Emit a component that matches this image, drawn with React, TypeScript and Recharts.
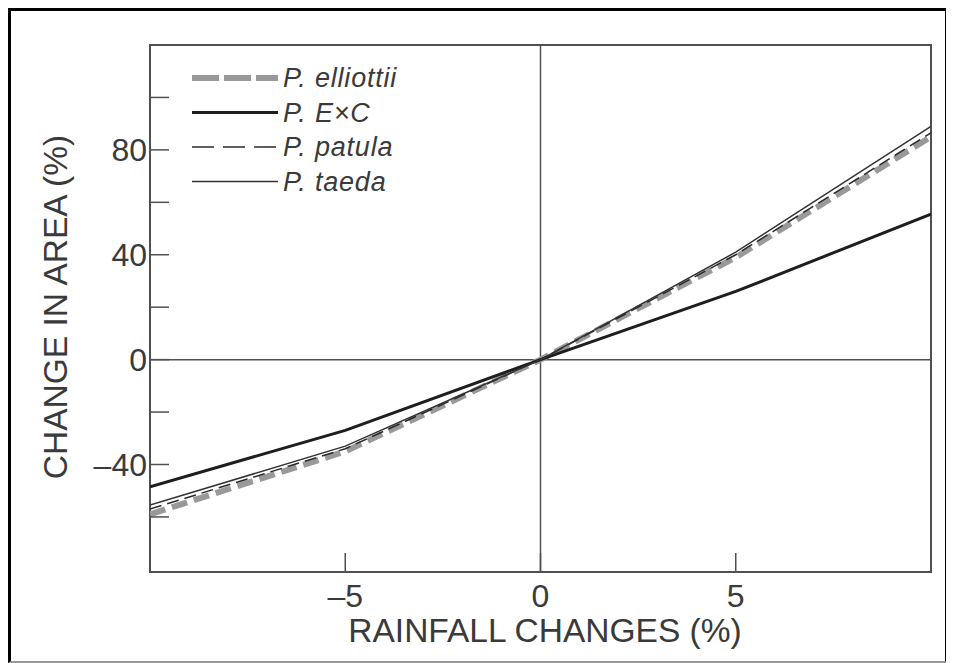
import React from 'react';
import { LineChart, Line, XAxis, YAxis, ReferenceLine, ReferenceArea, Legend, Label } from 'recharts';

// values (rainfall change % -> change in area %)
const rainfall = [-10, -5, 0, 5, 10];
const elliottii = [-59, -35, 0, 39, 85];
const exc = [-48.5, -27, 0, 26, 55.5];
const patula = [-57, -34, 0, 40, 86.5];
const taeda = [-55.5, -33, 0, 41, 89];

const yTicks = [-60, -40, -20, 0, 20, 40, 60, 80, 100];
const yLabels = [-40, 0, 40, 80];
const xTicks = [-5, 0, 5];

const data = rainfall.map((r, i) => ({
  rainfall: r,
  elliottii: elliottii[i],
  exc: exc[i],
  patula: patula[i],
  taeda: taeda[i],
}));

const series = [
  { key: 'elliottii', name: 'P. elliottii', color: '#999999', width: 6, dash: '16 7', legendDash: '27 5' },
  { key: 'exc', name: 'P. E\u00d7C', color: '#1e1e1e', width: 3, dash: undefined, legendDash: undefined },
  { key: 'patula', name: 'P. patula', color: '#2a2a2a', width: 1.5, dash: '12 6', legendDash: '22 9' },
  { key: 'taeda', name: 'P. taeda', color: '#333333', width: 1.5, dash: undefined, legendDash: undefined },
];

const W = 930;
const H = 648;
const PLOT_LEFT = 139;
const PLOT_TOP = 34;
const PLOT_BOTTOM = 561;
const AXIS = '#505050';
const TEXT = '#3a3a3a';
const FONT = '"Liberation Sans", Arial, sans-serif';

const dashText = (v: number) => (v < 0 ? `\u2013${-v}` : `${v}`);

function YTick(props: any) {
  const { y, payload } = props;
  const v = Number(payload.value);
  return (
    <g>
      <line x1={PLOT_LEFT} x2={PLOT_LEFT + 19} y1={y} y2={y} stroke={AXIS} strokeWidth={1.5} />
      {yLabels.includes(v) && (
        <text x={PLOT_LEFT - 3} y={y} textAnchor="end" dominantBaseline="central" fill={TEXT} fontSize={32} fontFamily={FONT}>
          {dashText(v)}
        </text>
      )}
    </g>
  );
}

function XTick(props: any) {
  const { x, payload } = props;
  const v = Number(payload.value);
  return (
    <g>
      <line x1={x} x2={x} y1={PLOT_BOTTOM} y2={PLOT_BOTTOM - 19} stroke={AXIS} strokeWidth={1.5} />
      <text x={x} y={PLOT_BOTTOM + 24} textAnchor="middle" dominantBaseline="central" fill={TEXT} fontSize={32} fontFamily={FONT}>
        {dashText(v)}
      </text>
    </g>
  );
}

function LegendBox() {
  return (
    <svg width={320} height={150} style={{ overflow: 'visible' }}>
      {series.map((s, i) => {
        const cy = 11 + i * 34.5;
        return (
          <g key={s.key}>
            <line x1={6} x2={92} y1={cy} y2={cy} stroke={s.color} strokeWidth={s.width} strokeDasharray={s.legendDash} />
            <text x={97} y={cy} dominantBaseline="central" fill={TEXT} fontSize={27} letterSpacing={0.8} fontStyle="italic" fontFamily={FONT}>
              {s.name}
            </text>
          </g>
        );
      })}
    </svg>
  );
}

export default function App() {
  return (
    <div
      style={{
        width: 940,
        height: 655,
        boxSizing: 'border-box',
        borderTop: '3px solid #000',
        borderLeft: '3px solid #000',
        borderRight: '3px solid #000',
        borderBottom: '2px solid #999',
        position: 'relative',
        background: '#fff',
      }}
    >
      <LineChart width={W} height={H} data={data} margin={{ top: PLOT_TOP, right: 10, bottom: 0, left: 0 }}>
        <XAxis
          type="number"
          dataKey="rainfall"
          domain={[-10, 10]}
          ticks={xTicks}
          interval={0}
          axisLine={false}
          tickLine={false}
          tick={<XTick />}
          height={87}
          allowDataOverflow
        >
          <Label
            content={() => (
              <text x={534} y={619} textAnchor="middle" dominantBaseline="central" fill={TEXT} fontSize={33.5} fontFamily={FONT}>
                RAINFALL CHANGES (%)
              </text>
            )}
          />
        </XAxis>
        <YAxis
          type="number"
          domain={[-81, 120]}
          ticks={yTicks}
          interval={0}
          axisLine={false}
          tickLine={false}
          tick={<YTick />}
          width={PLOT_LEFT}
          allowDataOverflow
        >
          <Label
            content={() => (
              <text
                x={44}
                y={296}
                transform="rotate(-90 44 296)"
                textAnchor="middle"
                dominantBaseline="central"
                fill={TEXT}
                fontSize={33.5}
                fontFamily={FONT}
              >
                CHANGE IN AREA (%)
              </text>
            )}
          />
        </YAxis>
        <ReferenceArea x1={-10} x2={10} y1={-81} y2={120} fill="none" stroke={AXIS} strokeWidth={2} />
        <ReferenceLine x={0} stroke={AXIS} strokeWidth={1.5} />
        <ReferenceLine y={0} stroke={AXIS} strokeWidth={1.5} />
        {series.map((s) => (
          <Line
            key={s.key}
            type="linear"
            dataKey={s.key}
            name={s.name}
            stroke={s.color}
            strokeWidth={s.width}
            strokeDasharray={s.dash}
            dot={false}
            activeDot={false}
            isAnimationActive={false}
          />
        ))}
        <Legend
          layout="vertical"
          align="center"
          verticalAlign="middle"
          content={() => <LegendBox />}
          wrapperStyle={{ left: 175, top: 56, width: 320, height: 150 }}
        />
      </LineChart>
    </div>
  );
}
